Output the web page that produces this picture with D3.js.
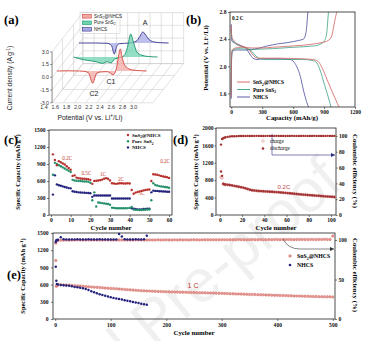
<!DOCTYPE html>
<html>
<head>
<meta charset="utf-8">
<script src="https://cdnjs.cloudflare.com/ajax/libs/d3/7.8.5/d3.min.js"></script>
<style>
body { margin: 0; background: #fff; }
svg { display: block; }
</style>
</head>
<body>
<script>
// ---------- data ----------
// (a) cyclic voltammetry, [potential V, current A/g]
var cvRed = [[1.4,0],[1.6,0.02],[1.8,0],[1.9,-0.05],[1.97,-0.3],[2.01,-1.1],[2.04,-1.45],[2.07,-0.9],[2.11,-0.25],[2.2,-0.1],[2.3,-0.08],[2.36,-0.3],[2.4,-0.45],[2.44,-0.15],[2.47,0.6],[2.5,1.8],[2.53,2.6],[2.56,1.7],[2.6,0.8],[2.66,0.35],[2.75,0.12],[2.88,0.04],[3.0,0]];
var cvGreen = [[1.5,0],[1.6,-0.2],[1.75,-0.4],[1.9,-0.55],[2.02,-0.75],[2.1,-0.55],[2.17,-0.7],[2.23,-0.25],[2.32,-0.08],[2.4,0.15],[2.46,1.1],[2.52,2.7],[2.57,1.7],[2.63,0.6],[2.72,0.2],[2.85,0.05],[3.0,0]];
var cvBlue = [[1.4,0],[1.7,0],[1.9,-0.03],[1.98,-0.3],[2.03,-1.3],[2.07,-0.45],[2.12,-0.08],[2.3,0],[2.42,0.2],[2.49,0.8],[2.54,1.3],[2.59,0.95],[2.66,0.35],[2.76,0.1],[2.9,0.02],[3.0,0]];
var cvTicksX = [1.4, 1.6, 1.8, 2.0, 2.2, 2.4, 2.6, 2.8, 3.0];
var cvTicksZ = [-3.0, -1.5, 0.0, 1.5, 3.0];

// (b) charge/discharge profiles, [capacity mAh/g, potential V]
var gdRedDis = [[0,2.6],[6,2.43],[20,2.39],[45,2.34],[80,2.31],[120,2.29],[160,2.26],[190,2.21],[220,2.15],[260,2.12],[330,2.12],[450,2.12],[600,2.115],[750,2.105],[820,2.09],[850,2.06],[880,1.98],[930,1.8],[980,1.62],[1030,1.45],[1050,1.38]];
var gdRedChg = [[0,1.55],[3,2.15],[10,2.24],[40,2.27],[100,2.28],[200,2.27],[300,2.27],[400,2.28],[500,2.29],[600,2.3],[700,2.31],[800,2.33],[880,2.35],[940,2.38],[975,2.45],[995,2.6],[1015,2.75],[1035,2.85]];
var gdGreenDis = [[0,2.55],[6,2.41],[30,2.35],[80,2.3],[150,2.27],[200,2.22],[240,2.15],[280,2.11],[320,2.1],[500,2.1],[700,2.1],[800,2.08],[830,2.05],[860,1.95],[900,1.75],[940,1.55],[970,1.38]];
var gdGreenChg = [[0,1.6],[4,2.15],[12,2.24],[60,2.26],[200,2.25],[400,2.26],[600,2.28],[800,2.3],[870,2.33],[905,2.38],[925,2.48],[935,2.65],[945,2.85]];
var gdBlueDis = [[0,2.62],[6,2.37],[40,2.34],[100,2.3],[150,2.25],[180,2.18],[210,2.12],[250,2.1],[300,2.11],[450,2.11],[570,2.1],[610,2.06],[640,1.98],[670,1.85],[700,1.65],[730,1.48],[755,1.38]];
var gdBlueChg = [[0,1.52],[3,2.1],[10,2.22],[50,2.24],[150,2.24],[250,2.26],[350,2.3],[450,2.33],[550,2.35],[650,2.38],[700,2.4],[725,2.5],[738,2.7],[745,2.85]];
var gdTicksX = [0, 300, 600, 900, 1200];
var gdTicksY = [1.6, 2.0, 2.4, 2.8];

// (c) rate performance, capacity per cycle (cycles 1-60)
var rateCycles = d3.range(1, 61);
var rateRed = [1070,970,880,950,930,910,890,860,830,800, 690,700,660,650,645,640,640,635,630,620, 550,600,605,610,615,625,640,650,640,610, 560,555,550,555,560,560,555,555,560,555, 440,375,395,405,415,425,435,440,445,450, 600,720,715,710,700,690,680,675,665,655];
var rateGreen = [710,920,900,880,860,840,820,800,780,760, 620,610,605,600,600,595,590,590,585,570, 260,400,150,220,215,210,205,200,195,180, 130,125,120,120,118,118,120,120,122,125, 140,95,90,90,88,88,90,92,95,98, 260,560,530,520,510,505,500,495,490,480];
var rateBlue = [360,700,540,525,515,505,495,485,475,470, 420,410,405,400,398,395,392,390,388,385, 320,345,345,345,345,345,345,345,345,345, 290,290,292,292,292,292,292,292,292,292, 120,110,105,100,100,100,105,105,110,110, 400,430,425,425,420,420,415,415,410,410];
var rateNames = ["0.2C", "0.5C", "1C", "2C", "5C", "0.2C"];
var rateNameAt = [[8.3,1011],[18,735],[26.4,723],[35.6,635],[46.1,388],[58,958]];

// (d) 0.2C cycling
var cyc02 = [1,2,3,4].concat(d3.range(5, 104, 2));
var dis02 = [1000,900,720,705,700,695,690,680,670,660,650,640,630,615,598,582,570,562,557,553,549,546,542,539,536,533,530,527,523,519,514,509,504,499,494,489,484,479,474,469,465,461,457,453,449,445,441,437,433,429,425,422,418,415];
var chg02 = [870,850,712,702,697,693,688,679,668,658,648,639,628,613,597,581,569,561,556,552,548,545,541,538,535,532,529,526,522,518,513,508,503,498,493,488,483,478,473,468,464,460,456,452,448,444,440,436,432,428,424,421,417,414];
var ce02 = [89,96,97,97.8,98.3,98.8,99.2,99.5,99.6,99.7,99.8,99.8,99.9,99.9,100,99.9,100,100,100.1,100,100,99.9,100,100.1,100,100,100,100.1,100,100,100,99.9,100,100,100.1,100,100,100,100,100.1,100,100,100,100,100.1,100,100,100,100,100,100.1,100,100,100];

// (e) 1C long cycling
var cyc1cRed = [1,2,3].concat(d3.range(5, 501, 5));
var cap1cRed = [1020,570,585, 595,598,595,592,590,586,582,578,574,570, 566,562,558,555,552,548,544,540,537,534, 530,527,523,520,516,512,508,504,500,497, 494,491,489,487,485,483,481,479,477,476, 474,473,471,470,468,467,466,464,463,462, 460,459,457,456,455,453,452,450,448,447, 445,443,441,440,438,436,434,433,431,429, 428,426,424,423,421,419,418,416,414,413, 411,409,408,406,404,403,401,400,398,397, 395,394,392,391,390,389,388,387,386,385];
var ce1cRed = [96,98.8,99.3, 99.5,99.7,99.8,99.9,99.8,100,99.9,100,100.1,99.9, 100,99.9,100,100.1,100,99.9,100,100.2,100,100, 99.9,100,100.1,100,100,99.9,100.1,100,100,100.2, 100,99.9,100,100.1,100,100,100.2,100.1,100,100.2, 100.1,100,100.2,100.1,100.3,100.1,100.2,100,100.2,100.3, 100.2,100.1,100.3,100.2,100.4,100.2,100.3,100.4,100.2,100.3, 100.4,100.3,100.5,100.3,100.4,100.6,100.4,100.5,100.3,100.5, 100.6,100.4,100.5,100.7,100.5,100.4,100.6,100.5,100.7,100.6, 100.5,100.7,100.6,100.8,100.6,100.5,100.7,100.6,100.8,100.7, 100.6,100.8,100.7,100.6,100.8,100.7,100.9,100.7,100.8,105];
var cyc1cBlue = [1,2,3].concat(d3.range(5, 166, 5));
var cap1cBlue = [913,668,610, 600,595,590,585,578,570,560,552,545,535,522,505,485,465,448,432,418,404,392,380,368,358,348,338,328,318,308,298,288,278,268,258,250];
var ce1cBlue = [97.5,99.5,100, 100.5,103.5,101,100.8,100.6,100.8,100.7,100.9,100.6,100.8,100.7,100.9,100.8,100.6,100.8,100.9,100.7,100.8,100.6,100.7,100.8,100.6,107.5,104.5,101,100.8,100.6,100.7,100.9,100.8,100.6,100.9,105.5];

// ---------- styles ----------
var SERIF = "'Liberation Serif', 'Times New Roman', serif";
var SANS = "'Liberation Sans', Arial, sans-serif";
var RED = "#b8302c", GREEN = "#24916a", BLUE = "#23237e";
var fmtInt = d3.format("d");

var svg = d3.select("body").append("svg").attr("width", 366).attr("height", 341);
var defs = svg.append("defs");
defs.append("marker").attr("id", "arr").attr("viewBox", "0 0 6 6")
  .attr("refX", 6).attr("refY", 3).attr("markerWidth", 4).attr("markerHeight", 4)
  .attr("markerUnits", "userSpaceOnUse").attr("orient", "auto")
  .append("path").attr("d", "M0,0L6,3L0,6z").attr("fill", "#2b2b80");
defs.append("marker").attr("id", "arrK").attr("viewBox", "0 0 6 6")
  .attr("refX", 6).attr("refY", 3).attr("markerWidth", 4).attr("markerHeight", 4)
  .attr("markerUnits", "userSpaceOnUse").attr("orient", "auto")
  .append("path").attr("d", "M0,0L6,3L0,6z").attr("fill", "#333");

// watermark
svg.append("text").attr("transform", "translate(167,335) rotate(-40)")
  .attr("text-anchor", "middle").attr("font-family", SANS).attr("font-size", 60)
  .attr("fill", "#f0f0f0").text("Journal Pre-proof");

// text with sub/superscript parts
function rich(sel, parts, size) {
  var shift = 0;
  parts.forEach(function(p) {
    var t = sel.append("tspan").text(p[0]);
    var target = p[1] === "sub" ? size * 0.3 : (p[1] === "sup" ? -size * 0.4 : 0);
    if (target !== shift) { t.attr("dy", target - shift); shift = target; }
    if (p[1]) t.attr("font-size", size * 0.7);
  });
  return sel;
}
var legNames = [[["SnS"], ["2", "sub"], ["@NHCS"]], [["Pure SnS"], ["2", "sub"]], [["NHCS"]]];
var capTitle = [["Specific Capacity (mAh g"], ["-1", "sup"], [")"]];
var potTitle = [["Potential (V vs. Li"], ["+", "sup"], ["/Li)"]];

function label(x, y, s) {
  svg.append("text").attr("x", x).attr("y", y).attr("font-family", SERIF)
    .attr("font-weight", "bold").attr("font-size", 12.5).text(s);
}
function ytitle(x, y, parts, size, rot) {
  var t = svg.append("text").attr("transform", "translate(" + x + "," + y + ") rotate(" + (rot || -90) + ")")
    .attr("text-anchor", "middle").attr("dy", "0.35em").attr("font-family", SERIF)
    .attr("font-weight", "bold").attr("font-size", size);
  rich(t, parts, size);
}
function xtitle(x, y, s) {
  svg.append("text").attr("x", x).attr("y", y).attr("text-anchor", "middle")
    .attr("font-family", SERIF).attr("font-weight", "bold").attr("font-size", 6.8).text(s);
}
function styleAxis(g) {
  g.attr("font-family", SERIF).attr("font-weight", "bold").attr("font-size", 5.6);
  g.select(".domain").remove();
  g.selectAll(".tick line").attr("stroke", "#222").attr("stroke-width", 0.6);
  g.selectAll(".tick text").attr("fill", "#111");
}
function frame(x, y) {
  svg.append("rect").attr("x", x.range()[0]).attr("y", y.range()[1])
    .attr("width", x.range()[1] - x.range()[0]).attr("height", y.range()[0] - y.range()[1])
    .attr("fill", "none").attr("stroke", "#222").attr("stroke-width", 0.8);
}

// ---------- (a) 3D CV ----------
var ax = d3.scaleLinear().domain([1.4, 3.2]).range([57, 157.8]);
var az = d3.scaleLinear().domain([-3, 3]).range([-25.5, 25.5]);
function P(p, d, z) { return [ax(p) + 11 * d, 71 - az(z) - 14 * d]; }
var dF = -0.45, dB = 2.35;
var gA = svg.append("g");
var grid = [];
ax.ticks(9).forEach(function(t) {
  grid.push([P(t, dF, -3), P(t, dB, -3)]);
  grid.push([P(t, dB, -3), P(t, dB, 3)]);
});
[dF, 0.5, 1.5, dB].forEach(function(d) {
  grid.push([P(1.4, d, -3), P(3.2, d, -3)]);
  grid.push([P(1.4, d, -3), P(1.4, d, 3)]);
});
cvTicksZ.forEach(function(z) {
  grid.push([P(1.4, dF, z), P(1.4, dB, z)]);
  grid.push([P(1.4, dB, z), P(3.2, dB, z)]);
});
gA.selectAll("line.grid").data(grid).enter().append("line")
  .attr("x1", function(d) { return d[0][0]; }).attr("y1", function(d) { return d[0][1]; })
  .attr("x2", function(d) { return d[1][0]; }).attr("y2", function(d) { return d[1][1]; })
  .attr("stroke", "#c4c4c4").attr("stroke-width", 0.5);

// front z axis
var za0 = P(1.4, dF, -3), za1 = P(1.4, dF, 3);
gA.append("line").attr("x1", za0[0]).attr("y1", za0[1]).attr("x2", za1[0]).attr("y2", za1[1])
  .attr("stroke", "#555").attr("stroke-width", 0.6);
cvTicksZ.forEach(function(z) {
  var q = P(1.4, dF, z);
  gA.append("line").attr("x1", q[0] - 2).attr("x2", q[0]).attr("y1", q[1]).attr("y2", q[1])
    .attr("stroke", "#555").attr("stroke-width", 0.6);
  gA.append("text").attr("x", q[0] - 3).attr("y", q[1]).attr("dy", "0.35em")
    .attr("text-anchor", "end").attr("font-family", SANS).attr("font-size", 5.3)
    .attr("fill", "#333").text(d3.format(".1f")(z).replace("\u2212", "-"));
});
cvTicksX.forEach(function(t) {
  var q = P(t, dF, -3);
  gA.append("text").attr("x", q[0] - 8).attr("y", q[1] + 6.6).attr("text-anchor", "middle")
    .attr("font-family", SANS).attr("font-size", 5.3).attr("fill", "#333").text(d3.format(".1f")(t));
});

var cvSeries = [
  {data: cvBlue, d: 2, stroke: "#35358c", fill: "#a9a9e6"},
  {data: cvGreen, d: 1, stroke: "#1d9470", fill: "#6fd3b0"},
  {data: cvRed, d: 0, stroke: "#d4443c", fill: "#f3aaa4"}
];
var pLine = d3.line().curve(d3.curveMonotoneX);
cvSeries.forEach(function(s) {
  var pts = s.data.map(function(v) { return P(v[0], s.d, v[1]); });
  var base = [P(s.data[s.data.length - 1][0], s.d, 0), P(s.data[0][0], s.d, 0)];
  gA.append("path").attr("d", pLine(pts) + "L" + base[0].join(",") + "L" + base[1].join(",") + "Z")
    .attr("fill", s.fill).attr("fill-opacity", 0.75).attr("stroke", "none");
  gA.append("path").attr("d", pLine(pts)).attr("fill", "none")
    .attr("stroke", s.stroke).attr("stroke-width", 0.9);
});

// legend (a)
var legA = gA.append("g");
legA.append("rect").attr("x", 80).attr("y", 12.5).attr("width", 40).attr("height", 21)
  .attr("fill", "#fff").attr("fill-opacity", 0.6).attr("stroke", "#bbb").attr("stroke-width", 0.4);
[cvSeries[2], cvSeries[1], cvSeries[0]].forEach(function(s, i) {
  legA.append("rect").attr("x", 82.5).attr("y", 14.5 + i * 6.5).attr("width", 9).attr("height", 3.6)
    .attr("fill", s.fill).attr("stroke", s.stroke).attr("stroke-width", 0.6);
  rich(legA.append("text").attr("x", 94).attr("y", 17.6 + i * 6.5).attr("font-family", SANS)
    .attr("font-size", 4.6).attr("fill", "#222"), legNames[i], 4.6);
});
[["A", 145, 25], ["C1", 111, 84], ["C2", 94, 96]].forEach(function(a) {
  gA.append("text").attr("x", a[1]).attr("y", a[2]).attr("text-anchor", "middle")
    .attr("font-family", SANS).attr("font-size", 7).attr("fill", "#222").text(a[0]);
});
var tA = svg.append("text").attr("transform", "translate(10,78) rotate(-90)").attr("text-anchor", "middle")
  .attr("dy", "0.35em").attr("font-family", SANS).attr("font-size", 6.6).attr("fill", "#222");
rich(tA, [["Current density (A g"], ["-1", "sup"], [")"]], 6.6);
rich(svg.append("text").attr("x", 90).attr("y", 119.5).attr("text-anchor", "middle")
  .attr("font-family", SANS).attr("font-size", 6.8).attr("fill", "#222"), potTitle, 6.8);
label(4, 24, "(a)");

// ---------- (b) profiles ----------
var bx = d3.scaleLinear().domain([-12, 1200]).range([230, 355]);
var by = d3.scaleLinear().domain([1.4, 2.8]).range([107, 12]);
defs.append("clipPath").attr("id", "clipB").append("rect")
  .attr("x", 230).attr("y", 12).attr("width", 125).attr("height", 95);
var gB = svg.append("g").attr("clip-path", "url(#clipB)");
var bLine = d3.line().x(function(d) { return bx(d[0]); }).y(function(d) { return by(d[1]); })
  .curve(d3.curveMonotoneX);
var bSeries = [
  [gdBlueDis, "#4b4b9b"], [gdBlueChg, "#4b4b9b"],
  [gdGreenDis, "#3aa184"], [gdGreenChg, "#3aa184"],
  [gdRedDis, "#d35f5f"], [gdRedChg, "#d35f5f"]
];
bSeries.forEach(function(s) {
  gB.append("path").attr("d", bLine(s[0])).attr("fill", "none").attr("stroke", s[1]).attr("stroke-width", 0.8);
});
frame(bx, by);
styleAxis(svg.append("g").attr("transform", "translate(0,107)")
  .call(d3.axisBottom(bx).tickValues(gdTicksX).tickFormat(fmtInt).tickSize(2).tickPadding(0.8)));
styleAxis(svg.append("g").attr("transform", "translate(230,0)")
  .call(d3.axisLeft(by).tickValues(gdTicksY).tickFormat(d3.format(".1f")).tickSize(2).tickPadding(1.5)));
["#d35f5f", "#3aa184", "#4b4b9b"].forEach(function(c, i) {
  var y = 82 + i * 7.5;
  svg.append("line").attr("x1", 237).attr("x2", 250).attr("y1", y).attr("y2", y)
    .attr("stroke", c).attr("stroke-width", 0.9);
  rich(svg.append("text").attr("x", 253).attr("y", y + 2).attr("font-family", SERIF)
    .attr("font-weight", "bold").attr("font-size", 5.4), legNames[i], 5.4);
});
svg.append("text").attr("x", 232).attr("y", 20).attr("font-family", SERIF).attr("font-weight", "bold")
  .attr("font-size", 5.2).text("0.2 C");
ytitle(206, 58, potTitle, 6.8);
xtitle(292, 120, "Capacity (mAh/g)");
label(186, 24, "(b)");

// ---------- (c) rate ----------
var cx = d3.scaleLinear().domain([-1, 61.5]).range([49, 172]);
var cy = d3.scaleLinear().domain([0, 1500]).range([215, 130]);
frame(cx, cy);
styleAxis(svg.append("g").attr("transform", "translate(0,215)")
  .call(d3.axisBottom(cx).tickValues(d3.range(0, 61, 10)).tickFormat(fmtInt).tickSize(2).tickPadding(1.5)));
styleAxis(svg.append("g").attr("transform", "translate(49,0)")
  .call(d3.axisLeft(cy).tickValues(d3.range(0, 1501, 300)).tickFormat(fmtInt).tickSize(2).tickPadding(1.5)));
[[rateBlue, BLUE], [rateGreen, GREEN], [rateRed, RED]].forEach(function(s) {
  svg.append("g").selectAll("circle").data(s[0]).enter().append("circle")
    .attr("cx", function(d, i) { return cx(rateCycles[i]); })
    .attr("cy", function(d) { return cy(d); })
    .attr("r", 1.2).attr("fill", s[1]);
});
rateNames.forEach(function(n, i) {
  svg.append("text").attr("x", cx(rateNameAt[i][0])).attr("y", cy(rateNameAt[i][1]))
    .attr("dy", "0.35em").attr("text-anchor", "middle").attr("font-family", SERIF)
    .attr("font-size", 5.2).attr("fill", "#c0392b").text(n);
});
[RED, GREEN, BLUE].forEach(function(c, i) {
  var y = 135 + i * 6.2;
  svg.append("circle").attr("cx", 128).attr("cy", y).attr("r", 1.2).attr("fill", c);
  rich(svg.append("text").attr("x", 132).attr("y", y + 1.8).attr("font-family", SERIF)
    .attr("font-weight", "bold").attr("font-size", 5), legNames[i], 5);
});
ytitle(18, 172, capTitle, 6.4);
xtitle(111, 229.5, "Cycle number");
label(4, 144, "(c)");

// ---------- (d) 0.2C cycling ----------
var dx = d3.scaleLinear().domain([-3.5, 104.5]).range([216, 336]);
var dyL = d3.scaleLinear().domain([0, 2000]).range([215, 128]);
var dyR = d3.scaleLinear().domain([0, 110]).range([215, 128]);
frame(dx, dyL);
styleAxis(svg.append("g").attr("transform", "translate(0,215)")
  .call(d3.axisBottom(dx).tickValues(d3.range(0, 101, 20)).tickFormat(fmtInt).tickSize(2).tickPadding(1.5)));
styleAxis(svg.append("g").attr("transform", "translate(216,0)")
  .call(d3.axisLeft(dyL).tickValues(d3.range(0, 2001, 400)).tickFormat(fmtInt).tickSize(1.5).tickPadding(1)));
styleAxis(svg.append("g").attr("transform", "translate(336,0)")
  .call(d3.axisRight(dyR).tickValues(d3.range(0, 101, 20)).tickFormat(fmtInt).tickSize(1.5).tickPadding(1.5)));
svg.append("g").selectAll("circle").data(chg02).enter().append("circle")
  .attr("cx", function(d, i) { return dx(cyc02[i]); }).attr("cy", function(d) { return dyL(d); })
  .attr("r", 1.2).attr("fill", "#fff").attr("stroke", "#c06060").attr("stroke-width", 0.5);
svg.append("g").selectAll("circle").data(dis02).enter().append("circle")
  .attr("cx", function(d, i) { return dx(cyc02[i]); }).attr("cy", function(d) { return dyL(d); })
  .attr("r", 1.2).attr("fill", "#a33030");
svg.append("g").selectAll("circle").data(ce02).enter().append("circle")
  .attr("cx", function(d, i) { return dx(cyc02[i]); }).attr("cy", function(d) { return dyR(d); })
  .attr("r", 1.2).attr("fill", "#a33030");
svg.append("circle").attr("cx", 263).attr("cy", 141).attr("r", 1.3).attr("fill", "#fff")
  .attr("stroke", "#d08080").attr("stroke-width", 0.5);
svg.append("circle").attr("cx", 263).attr("cy", 148.5).attr("r", 1.3).attr("fill", "#a33030");
svg.append("text").attr("x", 270).attr("y", 142.8).attr("font-family", SERIF).attr("font-size", 5.2).text("charge");
svg.append("text").attr("x", 270).attr("y", 150.3).attr("font-family", SERIF).attr("font-size", 5.2).text("discharge");
svg.append("path").attr("d", "M272,134V155H335").attr("fill", "none").attr("stroke", "#2b2b80")
  .attr("stroke-width", 0.6).attr("marker-end", "url(#arr)");
svg.append("text").attr("x", 284).attr("y", 189).attr("text-anchor", "middle").attr("font-family", SANS)
  .attr("font-size", 6.2).attr("fill", "#c0504d").text("0.2C");
ytitle(196, 172, capTitle, 6.4);
ytitle(355, 171, [["Coulombic efficiency (%)"]], 6.8, 90);
xtitle(276, 229.5, "Cycle number");
label(173, 144, "(d)");

// ---------- (e) 1C cycling ----------
var ex = d3.scaleLinear().domain([-4, 504]).range([53, 335]);
var eyL = d3.scaleLinear().domain([0, 1500]).range([319, 233]);
var eyR = d3.scaleLinear().domain([0, 108.9]).range([319, 233]);
frame(ex, eyL);
styleAxis(svg.append("g").attr("transform", "translate(0,319)")
  .call(d3.axisBottom(ex).tickValues(d3.range(0, 501, 100)).tickFormat(fmtInt).tickSize(2).tickPadding(2.5)));
styleAxis(svg.append("g").attr("transform", "translate(53,0)")
  .call(d3.axisLeft(eyL).tickValues(d3.range(0, 1501, 300)).tickFormat(fmtInt).tickSize(2).tickPadding(2.5)));
styleAxis(svg.append("g").attr("transform", "translate(335,0)")
  .call(d3.axisRight(eyR).tickValues([0, 50, 100]).tickFormat(fmtInt).tickSize(2).tickPadding(1.5)));
function dots(cyc, vals, y, fill, stroke) {
  svg.append("g").selectAll("circle").data(vals).enter().append("circle")
    .attr("cx", function(d, i) { return ex(cyc[i]); }).attr("cy", function(d) { return y(d); })
    .attr("r", 1.25).attr("fill", fill).attr("stroke", stroke).attr("stroke-width", 0.4);
}
dots(cyc1cRed, ce1cRed, eyR, "#e8a09c", "#c8504a");
dots(cyc1cRed, cap1cRed, eyL, "#e8a09c", "#c8504a");
dots(cyc1cBlue, ce1cBlue, eyR, BLUE, "none");
dots(cyc1cBlue, cap1cBlue, eyL, BLUE, "none");
svg.append("path").attr("d", "M283,239Q288,249 300,249L334,249").attr("fill", "none")
  .attr("stroke", "#333").attr("stroke-width", 0.6).attr("marker-end", "url(#arrK)");
svg.append("circle").attr("cx", 290).attr("cy", 256).attr("r", 1.3).attr("fill", "#e8a09c").attr("stroke", "#c8504a").attr("stroke-width", 0.4);
svg.append("circle").attr("cx", 290).attr("cy", 265).attr("r", 1.3).attr("fill", BLUE);
rich(svg.append("text").attr("x", 297).attr("y", 258).attr("font-family", SERIF).attr("font-weight", "bold")
  .attr("font-size", 5.8), legNames[0], 5.8);
svg.append("text").attr("x", 297).attr("y", 267).attr("font-family", SERIF).attr("font-weight", "bold")
  .attr("font-size", 5.8).text("NHCS");
svg.append("text").attr("x", 193).attr("y", 287.5).attr("text-anchor", "middle").attr("font-family", SANS)
  .attr("font-size", 7).attr("fill", "#c0392b").text("1 C");
ytitle(23, 276, capTitle, 6.4);
ytitle(355, 275, [["Coulombic efficiency (%)"]], 6.8, 90);
xtitle(194, 334.5, "Cycle number");
label(7, 279, "(e)");
</script>
</body>
</html>
